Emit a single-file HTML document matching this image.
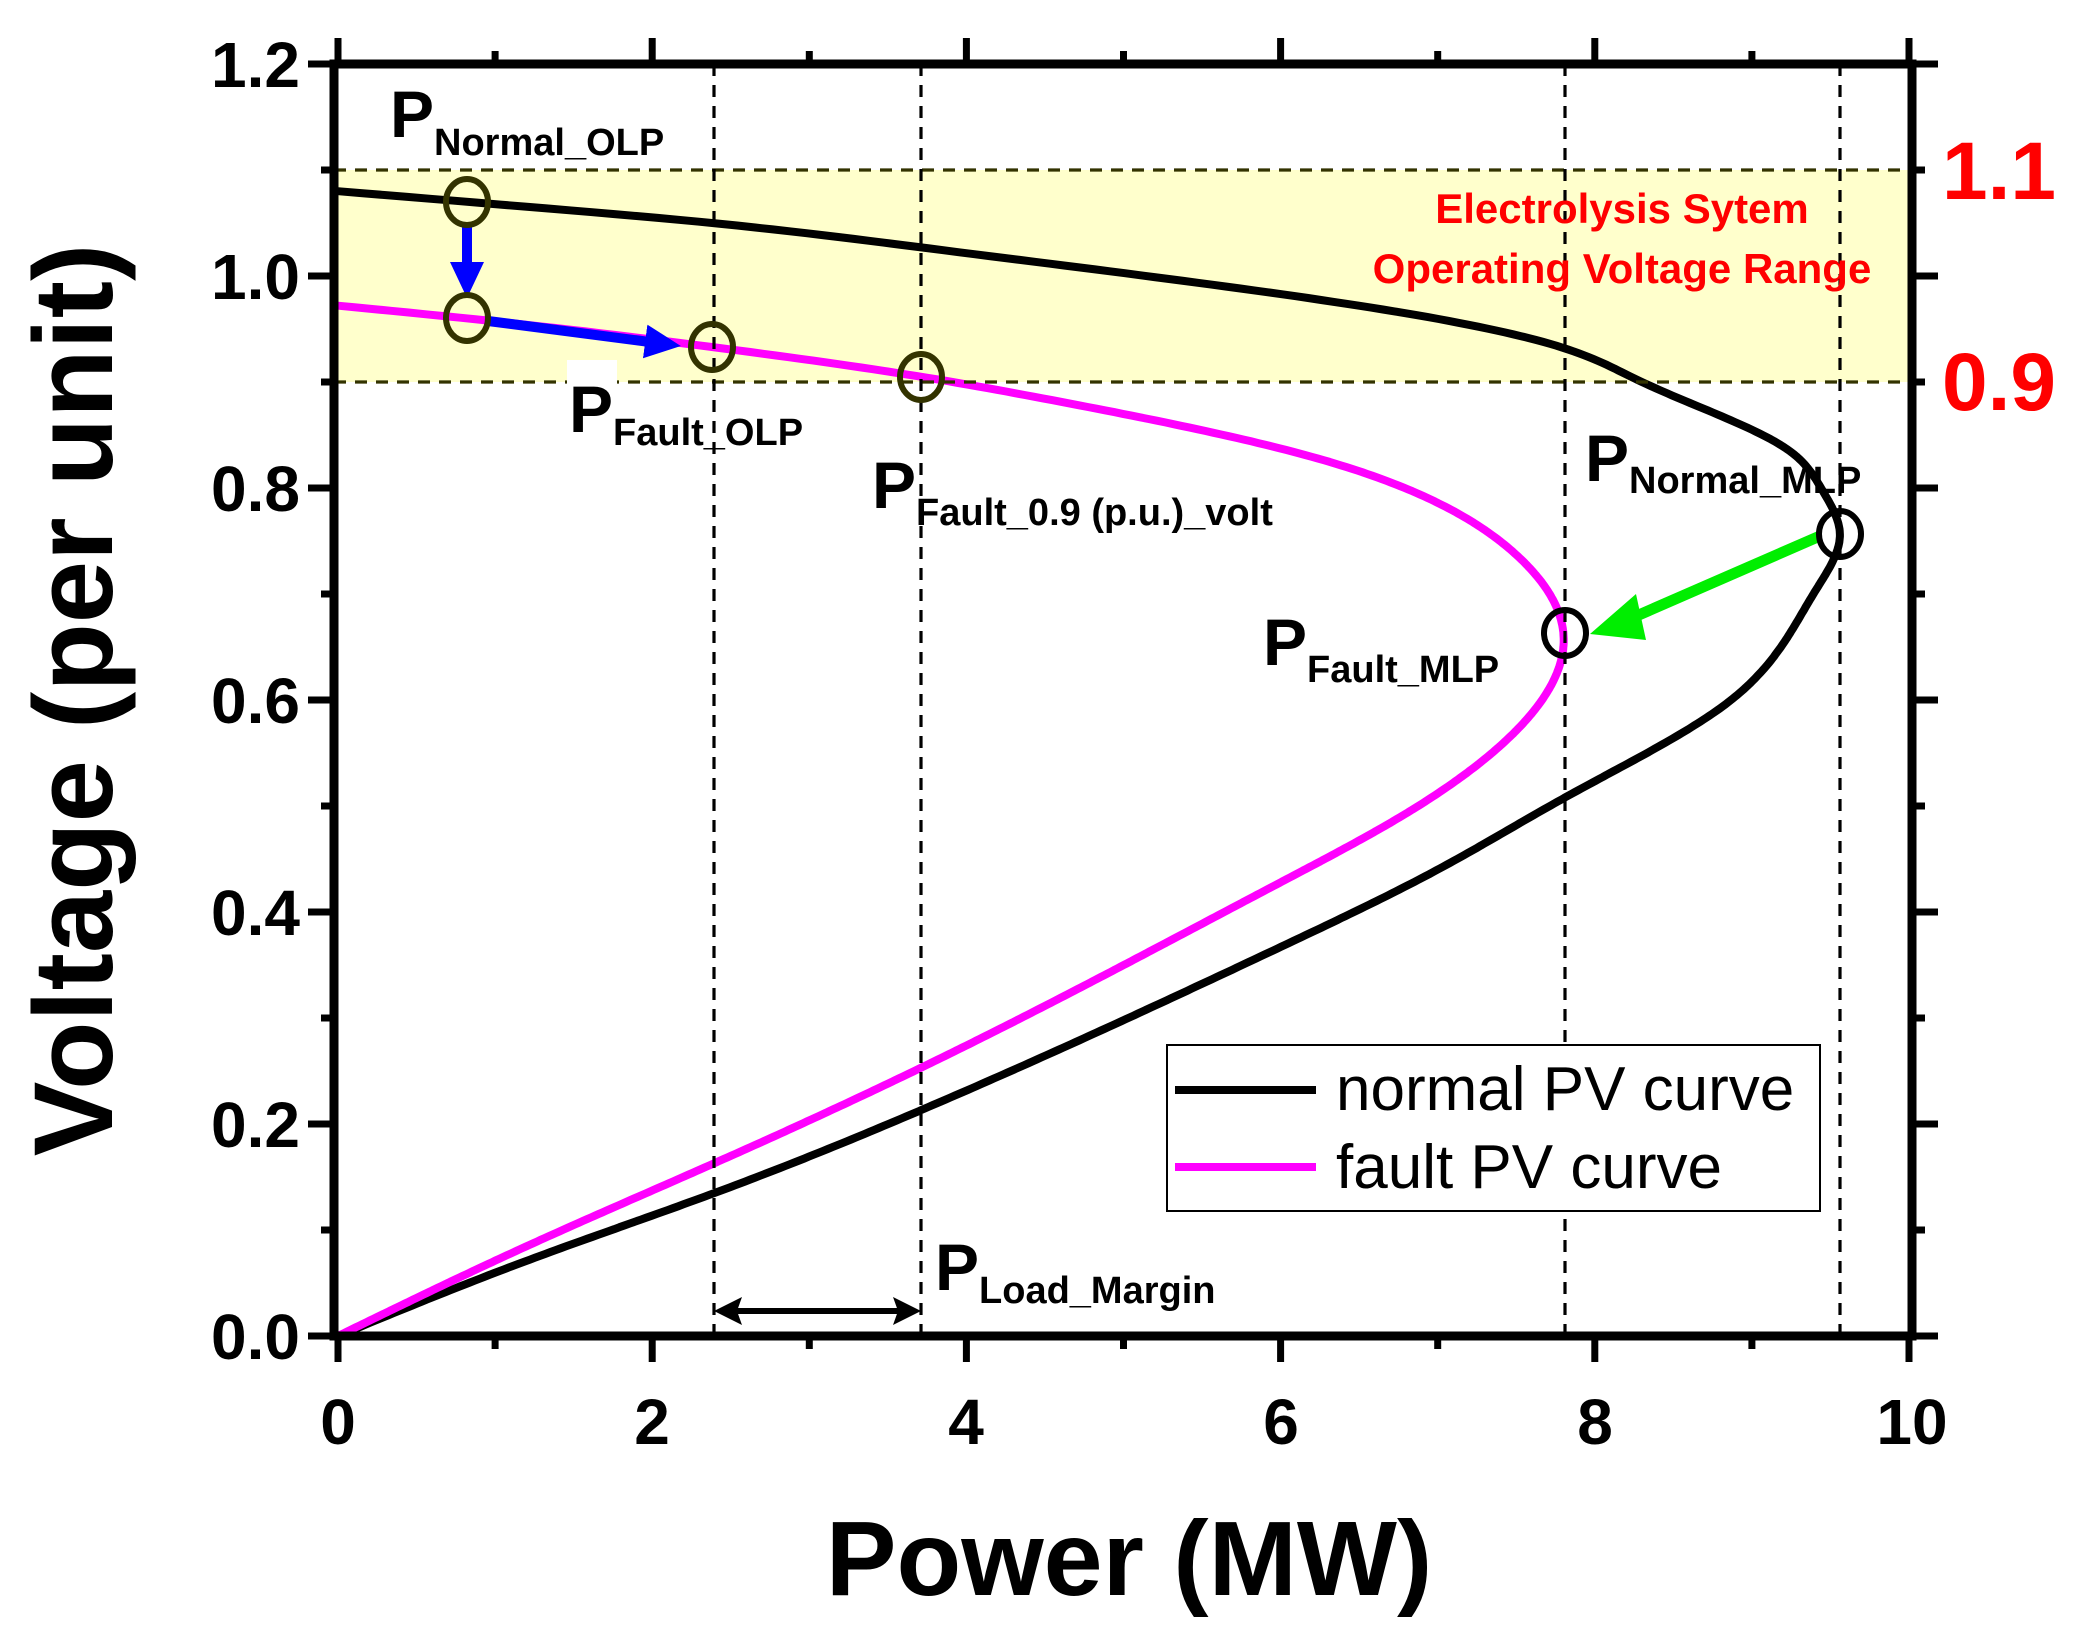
<!DOCTYPE html>
<html><head><meta charset="utf-8"><style>
html,body{margin:0;padding:0;background:#fff;}
svg{display:block;}
text{font-family:"Liberation Sans",Arial,sans-serif;}
</style></head><body>
<svg id="s" width="2078" height="1632" viewBox="0 0 2078 1632" xmlns="http://www.w3.org/2000/svg">
<defs>
<marker id="ab" markerWidth="4" markerHeight="4" refX="2" refY="2" orient="auto" markerUnits="strokeWidth"><path d="M0,0.3 L3.6,2 L0,3.7 Z" fill="#0000ff"/></marker>
</defs>
<rect x="334" y="170" width="1578" height="212" fill="#ffffcc"/>
<g id="curves" fill="none" stroke-width="8" stroke-linejoin="round"></g>
<g stroke="#000" stroke-width="3.2" stroke-dasharray="12 9" fill="none">
<line x1="334" y1="170" x2="1912" y2="170" stroke="#333300"/>
<line x1="334" y1="382" x2="1912" y2="382" stroke="#333300"/>
<line x1="714" y1="64" x2="714" y2="1336"/>
<line x1="921" y1="64" x2="921" y2="1336"/>
<line x1="1565" y1="64" x2="1565" y2="1336"/>
<line x1="1840" y1="64" x2="1840" y2="1336"/>
</g>
<rect x="334" y="64" width="1578" height="1272" fill="none" stroke="#000" stroke-width="9"/>
<g id="ticks" stroke="#000" stroke-width="7"></g>
<g font-weight="bold" font-size="64" text-anchor="end">
<text x="300" y="1359">0.0</text><text x="300" y="1147">0.2</text><text x="300" y="935">0.4</text>
<text x="300" y="723">0.6</text><text x="300" y="511">0.8</text><text x="300" y="299">1.0</text><text x="300" y="87">1.2</text>
</g>
<g font-weight="bold" font-size="64" text-anchor="middle">
<text x="338" y="1444">0</text><text x="652" y="1444">2</text><text x="966" y="1444">4</text>
<text x="1281" y="1444">6</text><text x="1595" y="1444">8</text><text x="1912" y="1444">10</text>
</g>
<text x="1129" y="1595" font-weight="bold" font-size="106" text-anchor="middle">Power (MW)</text>
<text transform="translate(112,700) rotate(-90)" font-weight="bold" font-size="112" text-anchor="middle">Voltage (per unit)</text>
<g fill="#ff0000" font-weight="bold">
<text x="1942" y="199" font-size="82">1.1</text>
<text x="1942" y="410" font-size="82">0.9</text>
<text x="1622" y="223" font-size="42" text-anchor="middle">Electrolysis Sytem</text>
<text x="1622" y="283" font-size="42" text-anchor="middle">Operating Voltage Range</text>
</g>
<line x1="467" y1="224" x2="467" y2="282" stroke="#0000ff" stroke-width="10" marker-end="url(#ab)"/>
<line x1="488" y1="321" x2="665" y2="344" stroke="#0000ff" stroke-width="10" marker-end="url(#ab)"/>
<line x1="1820" y1="536" x2="1625" y2="621" stroke="#00ee00" stroke-width="11"/>
<path d="M1590,634 L1636,594 L1646,640 Z" fill="#00ee00"/>
<line x1="730" y1="1311" x2="905" y2="1311" stroke="#000" stroke-width="6"/>
<path d="M714,1311 L742,1297 L737,1311 L742,1325 Z" fill="#000"/>
<path d="M921,1311 L893,1297 L898,1311 L893,1325 Z" fill="#000"/>
<g fill="none" stroke-width="6">
<ellipse cx="467" cy="202" rx="21" ry="23" stroke="#333300"/>
<ellipse cx="467" cy="318" rx="21" ry="23" stroke="#333300"/>
<ellipse cx="712" cy="347" rx="21" ry="23" stroke="#333300"/>
<ellipse cx="921" cy="377" rx="21" ry="23" stroke="#333300"/>
<ellipse cx="1840" cy="534" rx="21" ry="23" stroke="#000"/>
<ellipse cx="1565" cy="633" rx="21" ry="23" stroke="#000"/>
</g>
<g font-weight="bold">
<text x="390" y="137" font-size="66">P<tspan font-size="38" dy="18">Normal_OLP</tspan></text>
<rect x="567" y="360" width="50" height="28" fill="#fff"/>
<text x="569" y="432" font-size="66">P<tspan font-size="38" dy="13">Fault_OLP</tspan></text>
<text x="872" y="508" font-size="66">P<tspan font-size="38" dy="17">Fault_0.9 (p.u.)_volt</tspan></text>
<text x="1585" y="481" font-size="66">P<tspan font-size="38" dy="12">Normal_MLP</tspan></text>
<text x="1263" y="665" font-size="66">P<tspan font-size="38" dy="17">Fault_MLP</tspan></text>
<text x="935" y="1290" font-size="66">P<tspan font-size="38" dy="13">Load_Margin</tspan></text>
</g>
<rect x="1167" y="1045" width="653" height="166" fill="#fff" stroke="#000" stroke-width="2"/>
<line x1="1175" y1="1090" x2="1316" y2="1090" stroke="#000" stroke-width="8"/>
<line x1="1175" y1="1167" x2="1316" y2="1167" stroke="#ff00ff" stroke-width="8"/>
<text x="1336" y="1110" font-size="62">normal PV curve</text>
<text x="1336" y="1188" font-size="62">fault PV curve</text>
</svg>
<script>
(function(){
var NS="http://www.w3.org/2000/svg";
function X(p){return 338+157.1*p;} function Y(v){return 1336-1060*v;}
function spline(pts){
 var n=pts.length,x=pts.map(function(d){return d[0];}),y=pts.map(function(d){return d[1];});
 var h=[],a=[],l=[1],mu=[0],z=[0],c=new Array(n).fill(0),b=[],d=[];
 for(var i=0;i<n-1;i++)h[i]=x[i+1]-x[i];
 for(i=1;i<n-1;i++)a[i]=3/h[i]*(y[i+1]-y[i])-3/h[i-1]*(y[i]-y[i-1]);
 for(i=1;i<n-1;i++){l[i]=2*(x[i+1]-x[i-1])-h[i-1]*mu[i-1];mu[i]=h[i]/l[i];z[i]=(a[i]-h[i-1]*z[i-1])/l[i];}
 for(var j=n-2;j>=0;j--){c[j]=z[j]-mu[j]*c[j+1];b[j]=(y[j+1]-y[j])/h[j]-h[j]*(c[j+1]+2*c[j])/3;d[j]=(c[j+1]-c[j])/(3*h[j]);}
 return function(v){var k=0;while(k<n-2&&v>x[k+1])k++;var t=v-x[k];return y[k]+b[k]*t+c[k]*t*t+d[k]*t*t*t;};
}
function path(pts){
 var f=spline(pts),v0=pts[0][0],v1=pts[pts.length-1][0],s="";
 for(var i=0;i<=600;i++){var v=v0+(v1-v0)*i/600;s+=(i?"L":"M")+X(f(v)).toFixed(1)+","+Y(v).toFixed(1);}
 return s;
}
var normal=[[0,0],[0.072,1.22],[0.134,2.38],[0.213,3.71],[0.367,6],[0.44,7],[0.508,7.81],[0.598,8.85],[0.702,9.40],[0.757,9.56],[0.80,9.44],[0.836,9.23],[0.9,8.3],[0.934,7.76],[0.964,6.83],[1.027,3.71],[1.05,2.38],[1.07,0.82],[1.08,0]];
var fault=[[0,0],[0.086,1.22],[0.162,2.38],[0.253,3.71],[0.428,6.0],[0.486,6.72],[0.579,7.55],[0.663,7.80],[0.737,7.5],[0.786,7.0],[0.831,6.16],[0.885,4.47],[0.905,3.71],[0.933,2.38],[0.96,0.82],[0.972,0]];
var g=document.getElementById("curves");
[[normal,"#000"],[fault,"#ff00ff"]].forEach(function(c){
 var e=document.createElementNS(NS,"path");e.setAttribute("d",path(c[0]));e.setAttribute("stroke",c[1]);g.appendChild(e);
});
var t=document.getElementById("ticks");
function L(a,b,c,d){var e=document.createElementNS(NS,"line");e.setAttribute("x1",a);e.setAttribute("y1",b);e.setAttribute("x2",c);e.setAttribute("y2",d);t.appendChild(e);}
for(var i=0;i<=10;i++){var x=X(i),big=i%2==0;
 L(x,1336,x,1336+(big?26:13)); L(x,64,x,64-(big?26:13));}
for(var j=0;j<=12;j++){var y=Y(j/10),big=j%2==0;
 L(334,y,334-(big?26:13),y); L(1912,y,1912+(big?26:13),y);}
})();
</script>
</body></html>
